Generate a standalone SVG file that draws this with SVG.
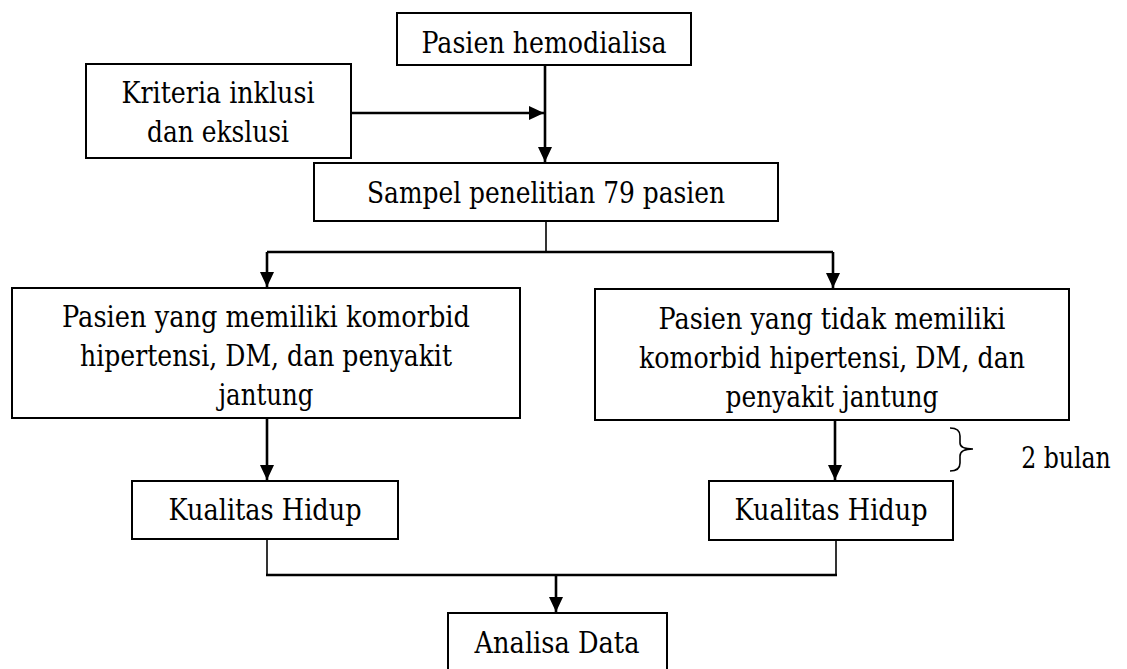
<svg xmlns="http://www.w3.org/2000/svg" width="1127" height="669" viewBox="0 0 1127 669">
<defs>
<style>
.box{fill:#fff;stroke:#000;stroke-width:2}
.t{font-family:'DejaVu Serif','Liberation Serif',serif;font-size:29.5px;fill:#000;text-anchor:middle}
.ln{fill:none;stroke:#000;stroke-width:1.6}
.ar{fill:none;stroke:#000;stroke-width:2.6}
</style>
<marker id="ah" markerUnits="userSpaceOnUse" markerWidth="16" markerHeight="14" refX="15" refY="7" orient="auto">
<path d="M0,0 L15,7 L0,14 Z" fill="#000"/>
</marker>
</defs>
<rect width="1127" height="669" fill="#fff"/>
<g id="connectors">
<line class="ar" x1="545" y1="65" x2="545" y2="162" marker-end="url(#ah)"/>
<line class="ar" x1="351" y1="113" x2="544" y2="113" marker-end="url(#ah)"/>
<line class="ln" x1="546" y1="221" x2="546" y2="252"/>
<polyline class="ar" points="267,252 833,252"/>
<line class="ar" x1="267" y1="252" x2="267" y2="287" marker-end="url(#ah)"/>
<line class="ar" x1="833" y1="252" x2="833" y2="288" marker-end="url(#ah)"/>
<line class="ar" x1="267" y1="418" x2="267" y2="480" marker-end="url(#ah)"/>
<line class="ar" x1="835" y1="420" x2="835" y2="480" marker-end="url(#ah)"/>
<polyline class="ln" points="267,540 267,575"/>
<polyline class="ln" points="836,540 836,575"/>
<line class="ar" x1="266" y1="575" x2="837" y2="575"/>
<line class="ar" x1="556" y1="575" x2="556" y2="612" marker-end="url(#ah)"/>
</g>
<g id="n-pasien">
<rect class="box" x="397" y="13" width="294" height="52"/>
<text class="t" x="544" y="53" textLength="245" lengthAdjust="spacingAndGlyphs">Pasien hemodialisa</text>
</g>
<g id="n-kriteria">
<rect class="box" x="86" y="64" width="265" height="94"/>
<text class="t" x="218" y="103" textLength="193" lengthAdjust="spacingAndGlyphs">Kriteria inklusi</text>
<text class="t" x="218" y="142" textLength="142" lengthAdjust="spacingAndGlyphs">dan ekslusi</text>
</g>
<g id="n-sampel">
<rect class="box" x="314" y="163" width="464" height="58"/>
<text class="t" x="546" y="203" textLength="358" lengthAdjust="spacingAndGlyphs">Sampel penelitian 79 pasien</text>
</g>
<g id="n-komorbid">
<rect class="box" x="12" y="288" width="508" height="130"/>
<text class="t" x="266" y="327" textLength="408" lengthAdjust="spacingAndGlyphs">Pasien yang memiliki komorbid</text>
<text class="t" x="266" y="366" textLength="372" lengthAdjust="spacingAndGlyphs">hipertensi, DM, dan penyakit</text>
<text class="t" x="266" y="405" textLength="95" lengthAdjust="spacingAndGlyphs">jantung</text>
</g>
<g id="n-tidak">
<rect class="box" x="595" y="289" width="474" height="131"/>
<text class="t" x="832" y="329" textLength="347" lengthAdjust="spacingAndGlyphs">Pasien yang tidak memiliki</text>
<text class="t" x="832" y="368" textLength="386" lengthAdjust="spacingAndGlyphs">komorbid hipertensi, DM, dan</text>
<text class="t" x="832" y="407" textLength="213" lengthAdjust="spacingAndGlyphs">penyakit jantung</text>
</g>
<g id="n-kualitas1">
<rect class="box" x="132" y="481" width="266" height="58"/>
<text class="t" x="265" y="520" textLength="193" lengthAdjust="spacingAndGlyphs">Kualitas Hidup</text>
</g>
<g id="n-kualitas2">
<rect class="box" x="709" y="481" width="244" height="59"/>
<text class="t" x="831" y="520" textLength="193" lengthAdjust="spacingAndGlyphs">Kualitas Hidup</text>
</g>
<g id="n-analisa">
<rect class="box" x="448" y="613" width="219" height="70"/>
<text class="t" x="557" y="653" textLength="165" lengthAdjust="spacingAndGlyphs">Analisa Data</text>
</g>
<g id="brace">
<path class="ln" d="M950,428 Q960,428 960,436 L960,443 Q960,449 973,449 Q960,449 960,456 L960,463 Q960,471 950,471"/>
<text class="t" transform="translate(1066,468) scale(0.8,1)" x="0" y="0">2 bulan</text>
</g>
</svg>
